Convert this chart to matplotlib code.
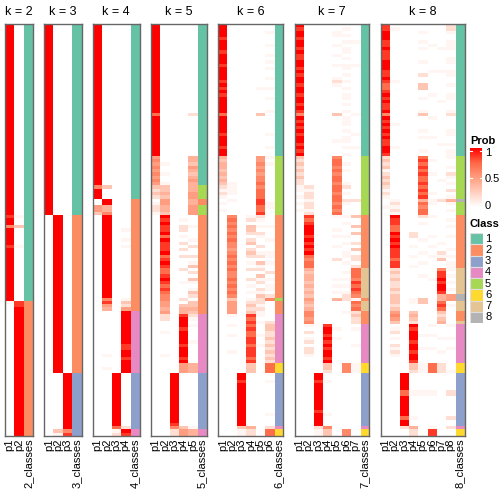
import numpy as np
import matplotlib.pyplot as plt
from matplotlib.colors import LinearSegmentedColormap, to_rgb

plt.rcParams['font.family'] = ['Liberation Sans', 'DejaVu Sans']

# membership probabilities, one character per sample (digit -> LEVELS)
# groups of ten samples separated by spaces, 125 samples in total
LEVELS = [0, 0.05, 0.17, 0.3, 0.4, 0.5, 0.6, 0.72, 0.86, 1.0]

K2_CLASS = "1111111111 1111111111 1111111111 1111111111 1111111111 1111111111 1111111111 1111111111 1111222222 2222222222 2222222222 2222222222 22222"
K2_P = [
    "9999999999 9999999999 9999999999 9999999999 9999999999 9999999989 9699999899 9999999999 9999100000 0000000000 0000000000 0000000000 00000",
    "0000000000 0000000000 0000000000 0000000000 0000000000 0000000010 0300000100 0000000000 0000889999 9999999999 9999999999 9999999999 99999",
]

K3_CLASS = "1111111111 1111111111 1111111111 1111111111 1111111111 1111111122 2222222222 2222222222 2222222222 2222222222 2222223333 3333333333 33333"
K3_P = [
    "9999999999 9999999999 9999999999 9999999999 9999999999 9999999900 0000000000 0000000000 0000000000 0000000000 0000000000 0000000000 00000",
    "0000000000 0000000000 0000000000 0000000000 0000000000 0000000099 9999999999 9999999999 9999999999 9999999999 9999990000 0000000000 00031",
    "0000000000 0000000000 0000000000 0000000000 0000000000 0000000000 0000000000 0000000000 0000000000 0000000000 0000009999 9999999999 99968",
]

K4_CLASS = "1111111111 1111111111 1111111111 1111111111 1111111111 1112222222 2222222222 2222222222 2222222444 4444444444 4444443333 3333333333 33344"
K4_P = [
    "9999999999 9999999999 9999999999 9999999999 9999999996 9990055300 0000000000 0000000000 0000000000 0000000000 0000000000 0000000000 00000",
    "0000000000 0000000000 0000000000 0000000000 0000000003 0009944699 9999999999 9999999999 9996854000 0000000000 1000100000 0000000000 00000",
    "0000000000 0000000000 0000000000 0000000000 0000000000 0000000000 0000000000 0000000000 0000000000 0000000000 0000009999 9999999999 99712",
    "0000000000 0000000000 0000000000 0000000000 0000000000 0000000000 0010010100 0000000000 0001325999 9999999889 9899990000 0000000000 00298",
]

K5_CLASS = "1111111111 1111111111 1111111111 1111111111 1111111115 5552255522 2222222222 2222222222 2222222244 4444444444 4444443333 3333333333 33344"
K5_P = [
    "9999999999 9999999999 9999999799 9999999999 5656565653 2320122100 0000000000 0000000000 0000000000 0000000000 0000000000 0000000000 00000",
    "0000000000 0000000000 0000000000 0000000000 0010010013 3435544398 9889798889 7898778987 8766554522 0001000000 1000000000 0000000000 00000",
    "0000000000 0000000000 0000000000 0000000000 0000000000 0000000000 0000000000 0000000000 0000000000 0000000000 0000009999 9999999999 98622",
    "0000000000 0000000000 0000000000 0000000000 0000000000 0000000001 0220102020 2000200010 0002034489 9989999899 9895550000 0000000000 00355",
    "0000000000 0000000000 0000000200 0000000000 4435434544 4554455500 0100010200 2013020310 1320334321 0100001000 0004440000 0000000000 00144",
]

K6_CLASS = "1111111111 1111111111 1111111111 1111111111 5555555555 5555555522 2222222222 2222222222 2225222244 4444444444 4446663333 3333333333 33466"
K6_P = [
    "9999899989 9989999898 9899999799 9998999899 4344343432 1210101000 0000000000 0000000000 0000000000 0000000000 0000000000 0000000000 00000",
    "0000000000 0000000000 0000000000 0000000000 0000000011 1101000067 6767676656 7676766767 6763555510 0100100001 0000000000 0000000000 00000",
    "0000000000 0000000000 0000000000 0000000000 0000000000 0000000000 0000000000 0000000000 0000000000 0000000000 0000009989 9999999999 99311",
    "0000000000 0000000000 0000000000 0000000000 0000000000 0000000012 0332023023 2010200201 0101232387 8787788788 8783330000 0000000000 00422",
    "0000000000 0000000001 0000000300 0000000000 5565656676 7778877821 0102100201 2031203120 2132212110 1000100100 0000000000 0000000000 00000",
    "0010001001 0101001001 0010001000 0001000100 1010000000 0000110000 0100010001 1010020101 1026000000 2332232323 2327770010 0000000010 00277",
]

K7_CLASS = "1111111111 1111111111 1111111111 1111111111 5555555555 5555555522 2222222222 2222777777 7772777222 2444444444 4446663333 3333333333 33466"
K7_P = [
    "9899899898 8998989989 9899898698 9898998989 3232323221 1010101000 0000000000 0000000000 0000000000 0000000000 0000000000 0000000000 00000",
    "0000000000 0000000000 0000000000 0000000000 0000000002 1221221287 8999898989 7677434434 3435434665 6102012022 1000000000 0000000000 00000",
    "0000000000 0000000000 0000000000 0000000000 0000000000 0000000000 0000000000 0000000000 0000000000 0000000000 0000009989 9999999899 99211",
    "0000000000 0000000000 0000000000 0000000000 0000000000 0000000000 0000000000 0000000000 0000000000 0899898989 9893320010 0000000010 00633",
    "0011001001 0010001210 0000000300 0000010000 6776767767 7677676710 0010100100 0200000101 0104000000 0010010000 0000000000 0000000000 00000",
    "0101010110 1011010101 0110101011 1010110101 0010100012 0102100010 1000101001 1010010101 0122000100 0000000000 0006660000 0000000000 00066",
    "0000010000 0010000000 0000000100 0001000100 0000000000 0002000030 0303002030 2202777687 8761767232 2010000100 0001110000 0000000000 00000",
]

K8_CLASS = "1111111111 1111111111 1111111111 1111111111 5555555555 5558555522 2222222222 2222777777 7788777222 7444444444 4446663333 3333333333 33466"
K8_P = [
    "8899988988 8999889877 8989889698 9898988998 2323123232 1210010000 0000000000 0000000000 0000000000 0000000000 0000000000 0000000000 00000",
    "0100000000 0000000100 0000000000 1000000100 0000000000 0001212198 8779898988 8788232322 3233323565 3012010212 1000000000 0000000000 00000",
    "0000000000 0000000000 0000000000 0000000000 0000000000 0000000000 0000000000 0000000000 0000000000 0000000000 0000009999 9779999997 99200",
    "0000000000 0000000000 0000000000 0000000000 0000000000 0000000000 0002200100 1001000000 0001100343 2989998998 9983320000 0110000001 00422",
    "0010010100 0100020033 0010001300 0010100010 7878787787 8784767720 1000010001 0010001000 0003300000 0000100010 0001110000 0110000000 00000",
    "0000001000 0000100000 0100000010 0000100000 0100010000 0101100010 0000100100 1000000100 0000000000 0100100010 0007770000 0110000000 00188",
    "0000000100 0000100000 0001000000 0000001000 0000000100 0002000000 0000001002 1300688989 9844787323 4000010001 0002220000 0000000000 00000",
    "2210011100 1100110010 0110001200 0011001011 1001021010 2014101001 0100100010 1011101010 1055010000 0100010010 0000010000 0220000002 00200",
]

PANELS = [(2, K2_CLASS, K2_P), (3, K3_CLASS, K3_P), (4, K4_CLASS, K4_P),
          (5, K5_CLASS, K5_P), (6, K6_CLASS, K6_P), (7, K7_CLASS, K7_P),
          (8, K8_CLASS, K8_P)]

CLASS_COLORS = ['#66C2A5', '#FC8D62', '#8DA0CB', '#E78AC3',
                '#A6D854', '#FFD92F', '#E5C494', '#B3B3B3']

prob_cmap = LinearSegmentedColormap.from_list(
    'prob', ['#FFFFFF', '#FFCFBF', '#FF9E81', '#FF6846', '#FF0000'])


def decode(s):
    return np.array([int(c) for c in s.replace(' ', '')])


fig = plt.figure(figsize=(5.04, 5.04), dpi=100)
W = H = 504.0


def px_axes(x0, y0, w, h):
    return fig.add_axes([x0 / W, 1 - (y0 + h) / H, w / W, h / H])


col_w = 9.33
gap = 11.3
top, bottom = 24, 436
levels = np.array(LEVELS)
x = 5.0
for k, cls, probs in PANELS:
    cl = decode(cls)
    n = len(cl)
    ncol = k + 1
    w = ncol * col_w
    ax = px_axes(x, top, w, bottom - top)
    img = np.ones((n, ncol, 3))
    for j, s in enumerate(probs):
        v = decode(s)
        assert len(v) == n, (k, j, len(v))
        img[:, j, :] = prob_cmap(levels[v])[:, :3]
    img[:, k, :] = [to_rgb(CLASS_COLORS[c - 1]) for c in cl]
    ax.imshow(img, aspect='auto', interpolation='nearest',
              extent=(0, ncol, n, 0))
    ax.set_xlim(0, ncol)
    ax.set_ylim(n, 0)
    ax.set_xticks(np.arange(ncol) + 0.5)
    ax.set_xticklabels([f'p{i + 1}' for i in range(k)] + [f'{k}_classes'],
                       rotation=90, fontsize=8)
    ax.tick_params(length=0, pad=2)
    ax.set_yticks([])
    for sp in ax.spines.values():
        sp.set_color('#666666')
        sp.set_linewidth(1.0)
    fig.text((x + w / 2) / W, 1 - 12 / H, f'k = {k}', ha='center',
             va='center', fontsize=9)
    x += w + gap

# Prob legend
fig.text(470 / W, 1 - 141 / H, 'Prob', fontsize=8, fontweight='bold',
         ha='left', va='center')
cax = px_axes(470, 148, 12, 59)
grad = np.linspace(1, 0, 200).reshape(-1, 1)
cax.imshow(grad, cmap=prob_cmap, aspect='auto', extent=(0, 1, 0, 1),
           vmin=0, vmax=1)
for lv in (0.5, 0.95):
    cax.plot([0, 0.2], [lv, lv], color='white', lw=0.8)
    cax.plot([0.8, 1], [lv, lv], color='white', lw=0.8)
cax.set_xlim(0, 1)
cax.set_ylim(0, 1)
cax.axis('off')
for lab, yy in (('1', 153), ('0.5', 179), ('0', 206)):
    fig.text(485 / W, 1 - yy / H, lab, fontsize=8, ha='left', va='center')

# Class legend
fig.text(470 / W, 1 - 224 / H, 'Class', fontsize=8, fontweight='bold',
         ha='left', va='center')
lax = px_axes(470, 233, 13, 90)
for i, c in enumerate(CLASS_COLORS):
    lax.add_patch(plt.Rectangle((0, i), 1, 1, facecolor=c,
                                edgecolor='#DDDDDD', lw=0.8))
    fig.text(485 / W, 1 - (238.6 + i * 11.25) / H, str(i + 1), fontsize=8,
             ha='left', va='center')
lax.set_xlim(0, 1)
lax.set_ylim(8, 0)
lax.axis('off')

fig.savefig('out.png', dpi=100)
